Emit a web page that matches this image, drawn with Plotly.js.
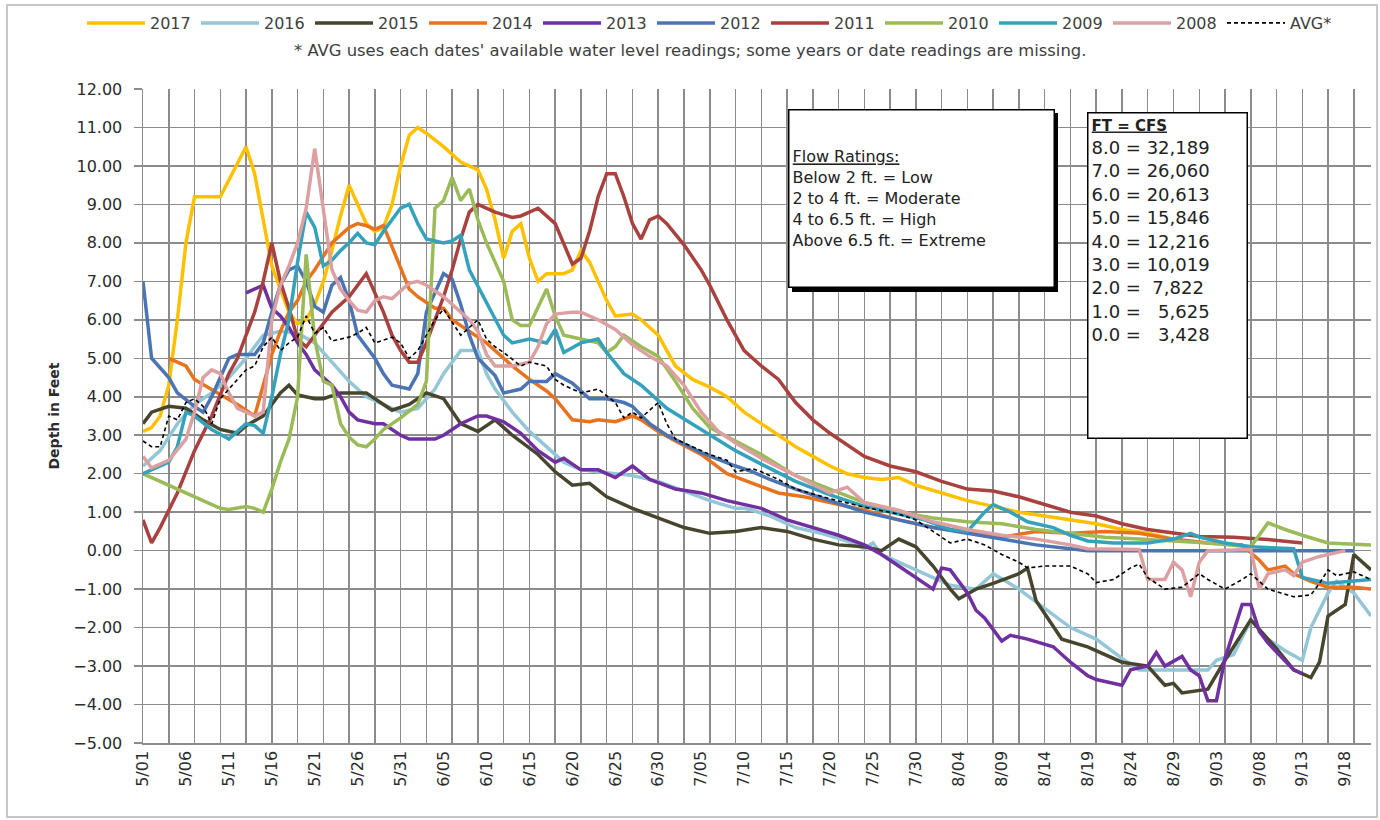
<!DOCTYPE html>
<html>
<head>
<meta charset="utf-8">
<script src="https://cdn.plot.ly/plotly-3.0.1.min.js"></script>
<style>
  html, body { margin: 0; padding: 0; background: #fff; }
  #chart { width: 1380px; height: 820px; position: relative; }
  #frame { position: absolute; left: 6px; top: 4px; width: 1372px; height: 814px; border: 2px solid #c8c8c8; pointer-events: none; box-sizing: border-box; }
</style>
</head>
<body>
<div id="chart"></div>
<div id="frame"></div>
<script>
// ---- x tick labels (every 5 days) ----
const xTickLabels = ['5/01','5/06','5/11','5/16','5/21','5/26','5/31','6/05','6/10','6/15','6/20','6/25','6/30',
  '7/05','7/10','7/15','7/20','7/25','7/30','8/04','8/09','8/14','8/19','8/24','8/29','9/03','9/08','9/13','9/18'];

// ---- series: day offsets from 5/01 and depth in feet ----
const d2017 = [0,1,2,3,4,5,6,7,9,12,13,14,15,16,17,18,19,20,21,22,23,24,25,26,27,28,29,30,31,32,33,35,37,39,40,41,42,43,44,45,46,47,49,50,51,52,53,54,55,57,58,60,62,64,66,68,70,72,74,76,78,80,82,84,86,88,90,93,96,99,102,105,108,111,114,117,120];
const v2017 = [3.1,3.2,3.5,4.3,6.0,8.0,9.2,9.2,9.2,10.5,9.8,8.6,7.4,6.8,6.2,5.9,6.0,6.4,7.0,7.8,8.7,9.5,9.0,8.5,8.3,8.4,9.0,10.0,10.8,11.0,10.85,10.5,10.1,9.9,9.4,8.6,7.6,8.3,8.5,7.6,7.0,7.2,7.2,7.3,7.8,7.5,7.0,6.5,6.1,6.15,6.0,5.6,4.8,4.45,4.25,4.0,3.6,3.3,3.0,2.7,2.45,2.2,2.0,1.9,1.85,1.9,1.7,1.5,1.3,1.15,1.0,0.9,0.8,0.7,0.55,0.45,0.3];

const d2016 = [0,2,4,6,8,10,12,14,16,18,20,22,24,26,28,30,32,34,35,37,39,40,41,43,45,47,49,51,53,55,57,60,63,66,69,70,71,73,76,79,82,84,85,86,88,91,94,97,99,102,105,108,111,114,116,120,124,125,127,129,131,133,135,136,138,139,141,143];
const v2016 = [2.2,2.6,3.3,3.8,4.1,4.5,5.0,5.6,5.7,5.65,5.4,4.9,4.4,4.0,3.8,3.6,3.7,4.2,4.6,5.2,5.2,4.6,4.2,3.6,3.1,2.7,2.3,2.1,2.05,2.0,1.95,1.8,1.55,1.3,1.1,1.1,1.05,0.9,0.6,0.45,0.25,0.05,0.2,-0.1,-0.3,-0.6,-0.9,-1.0,-0.6,-1.0,-1.5,-2.0,-2.3,-2.8,-3.1,-3.1,-3.1,-2.85,-2.7,-1.8,-2.3,-2.6,-2.85,-2.0,-1.1,-0.8,-1.1,-1.7];

const d2015 = [0,1,3,5,7,9,11,12,14,16,17,18,20,21,23,26,28,29,31,33,35,37,39,41,43,46,48,50,52,54,57,60,63,66,69,72,75,78,81,84,86,88,90,92,94,95,97,99,102,103,104,107,110,114,117,119,120,121,124,126,129,131,132,134,136,137,138,140,141,143];
const v2015 = [3.3,3.6,3.75,3.7,3.4,3.15,3.05,3.25,3.5,4.1,4.3,4.05,3.95,3.95,4.1,4.1,3.8,3.65,3.8,4.1,3.95,3.3,3.1,3.4,3.0,2.5,2.05,1.7,1.75,1.4,1.1,0.85,0.6,0.45,0.5,0.6,0.5,0.3,0.15,0.1,0.0,0.3,0.1,-0.4,-1.0,-1.25,-1.0,-0.85,-0.6,-0.45,-1.3,-2.3,-2.5,-2.9,-3.0,-3.5,-3.45,-3.7,-3.6,-2.85,-1.8,-2.3,-2.55,-3.1,-3.3,-2.9,-1.7,-1.4,-0.1,-0.5];

const d2014 = [3,5,6,8,9,11,13,14,15,16,17,18,19,20,22,24,25,26,27,28,29,30,31,32,34,35,36,38,40,42,43,45,47,48,50,52,53,55,57,58,60,62,65,68,71,74,77,80,84,88,92,96,100,104,108,112,116,120,124,128,130,131,133,134,136,138,141,143];
const v2014 = [5.0,4.8,4.45,4.2,4.05,3.8,3.5,4.3,5.1,5.7,6.2,6.5,7.0,7.3,8.0,8.4,8.5,8.45,8.35,8.45,7.9,7.3,6.8,6.6,6.3,6.3,6.0,5.7,5.4,5.0,4.8,4.45,4.15,3.95,3.4,3.35,3.4,3.35,3.5,3.4,3.1,2.85,2.5,2.0,1.75,1.5,1.4,1.25,1.05,0.8,0.6,0.5,0.35,0.5,0.45,0.5,0.45,0.3,0.2,0.15,-0.25,-0.5,-0.4,-0.6,-0.8,-0.95,-0.95,-1.0];

const d2013 = [12,13,14,15,16,17,18,19,20,21,22,23,24,25,27,28,30,31,34,35,37,39,40,42,44,46,48,49,51,53,55,57,59,62,65,68,72,75,78,81,84,86,88,90,92,93,94,96,97,98,100,101,103,106,108,110,111,114,115,117,118,119,121,122,123,124,125,126,128,129,130,131,134,135];
const v2013 = [6.7,6.8,6.9,6.3,6.1,5.8,5.4,5.1,4.7,4.5,4.3,4.0,3.6,3.4,3.3,3.3,3.0,2.9,2.9,3.0,3.3,3.5,3.5,3.35,3.05,2.6,2.3,2.4,2.1,2.1,1.9,2.2,1.85,1.6,1.5,1.3,1.1,0.8,0.6,0.4,0.15,-0.1,-0.4,-0.7,-1.0,-0.45,-0.5,-1.1,-1.55,-1.75,-2.35,-2.2,-2.3,-2.5,-2.9,-3.25,-3.35,-3.5,-3.1,-3.0,-2.65,-3.0,-2.75,-3.1,-3.25,-3.9,-3.9,-2.8,-1.4,-1.4,-2.1,-2.4,-3.1,-3.2];

const d2012 = [0,1,3,4,6,7,8,9,10,11,13,14,15,16,17,18,19,20,21,22,23,24,25,27,28,29,31,32,33,35,36,37,38,39,41,42,44,45,47,48,50,52,54,56,57,59,61,65,69,71,73,76,80,84,88,92,96,100,104,108,110,141];
const v2012 = [7.0,5.0,4.5,4.1,3.75,3.6,4.0,4.5,5.0,5.1,5.1,5.4,6.2,6.9,7.3,7.4,7.0,6.35,6.2,6.9,7.1,6.5,5.6,5.0,4.6,4.3,4.2,4.6,6.2,7.2,7.05,6.4,5.6,5.0,4.55,4.1,4.2,4.4,4.4,4.6,4.35,3.95,3.95,3.85,3.75,3.3,3.0,2.55,2.2,2.05,1.85,1.6,1.3,1.0,0.8,0.6,0.45,0.3,0.15,0.05,0.0,0.0];

const d2011 = [0,1,2,4,6,8,10,11,13,14,15,16,17,18,19,20,22,24,26,27,28,29,30,31,32,33,35,36,37,38,39,41,43,44,46,48,49,50,51,52,53,54,55,56,57,58,59,60,61,63,65,66,68,70,72,74,76,78,80,82,84,87,90,93,96,99,102,105,108,111,114,117,120,123,127,131,135];
const v2011 = [0.8,0.2,0.6,1.5,2.6,3.5,4.6,5.0,6.2,7.0,8.0,7.0,6.3,5.5,5.3,5.6,6.2,6.6,7.2,6.7,6.2,5.6,5.2,4.9,4.9,5.4,6.6,7.3,8.1,8.8,9.0,8.8,8.66,8.7,8.9,8.5,8.0,7.45,7.6,8.3,9.2,9.8,9.8,9.2,8.5,8.1,8.6,8.7,8.5,7.95,7.3,6.9,6.0,5.2,4.8,4.45,3.85,3.4,3.05,2.75,2.45,2.2,2.05,1.8,1.6,1.55,1.4,1.2,1.0,0.9,0.7,0.55,0.45,0.37,0.35,0.29,0.2];

const d2010 = [0,3,6,9,10,12,13,14,15,16,17,18,19,20,21,22,23,24,25,26,27,28,30,32,33,34,35,36,37,38,39,40,41,42,43,44,45,46,47,48,49,51,53,54,55,56,58,60,62,64,66,69,72,76,80,84,88,92,96,100,104,108,112,116,120,124,129,130,131,133,135,138,143];
const v2010 = [2.0,1.7,1.4,1.1,1.07,1.15,1.1,1.0,1.6,2.3,2.9,4.0,7.7,5.5,4.4,4.3,3.3,2.95,2.75,2.7,2.9,3.15,3.45,3.8,4.4,8.9,9.1,9.7,9.1,9.4,8.6,8.0,7.5,7.0,6.0,5.85,5.85,6.3,6.8,6.1,5.6,5.5,5.4,5.15,5.3,5.6,5.3,5.05,4.4,3.7,3.2,2.85,2.5,1.95,1.6,1.25,1.0,0.85,0.75,0.7,0.55,0.45,0.35,0.3,0.25,0.2,0.1,0.4,0.72,0.55,0.4,0.2,0.15];

const d2009 = [0,2,3,4,5,6,8,10,11,12,13,14,15,16,17,18,19,20,21,22,23,24,25,26,27,28,29,30,31,32,33,35,36,37,38,40,41,42,43,45,47,48,49,51,53,54,56,58,61,65,69,72,76,80,84,88,91,94,96,98,99,101,103,106,108,110,113,117,120,122,123,126,129,134,135,138,143];
const v2009 = [2.0,2.2,2.3,2.7,3.6,3.5,3.15,2.9,3.1,3.3,3.25,3.05,4.0,5.1,6.0,7.5,8.8,8.4,7.4,7.55,7.8,8.0,8.25,8.0,7.95,8.3,8.6,8.9,9.0,8.5,8.1,8.0,8.05,8.2,7.3,6.45,6.0,5.6,5.4,5.5,5.4,5.75,5.15,5.4,5.5,5.15,4.6,4.3,3.7,3.15,2.6,2.25,1.8,1.45,1.15,0.95,0.8,0.55,0.5,1.0,1.2,1.0,0.75,0.6,0.4,0.25,0.2,0.2,0.3,0.45,0.35,0.2,0.1,0.05,-0.7,-0.85,-0.75];

const d2008 = [0,1,3,5,6,7,8,9,10,11,12,13,14,15,16,17,18,19,20,21,22,23,24,25,26,27,28,29,31,32,33,35,37,38,39,40,41,43,45,46,47,48,50,51,53,55,57,59,61,63,65,67,69,72,76,80,82,84,88,92,96,100,104,108,110,116,117,119,120,121,122,123,124,129,130,131,133,134,135,137,140];
const v2008 = [2.45,2.15,2.35,2.9,3.6,4.5,4.7,4.6,4.1,3.7,3.6,3.5,3.6,6.0,6.9,7.4,8.0,8.9,10.45,8.8,7.3,6.8,6.5,6.25,6.2,6.5,6.6,6.55,6.95,7.0,6.9,6.6,6.2,6.0,5.7,5.1,4.8,4.8,4.9,5.3,5.9,6.15,6.2,6.2,6.0,5.75,5.35,5.05,4.8,4.3,3.6,3.1,2.8,2.4,1.95,1.5,1.65,1.25,1.05,0.75,0.55,0.4,0.3,0.15,0.05,0.03,-0.75,-0.75,-0.3,-0.5,-1.2,-0.3,0.0,0.03,-1.0,-0.6,-0.5,-0.65,-0.3,-0.15,0.0];

const dAvg = [0,1,2,3,4,5,6,7,8,9,10,12,13,14,15,16,17,18,19,20,21,22,24,25,26,27,29,30,31,32,33,34,35,36,37,38,39,40,41,42,44,45,47,48,49,51,53,55,56,57,58,60,61,62,64,66,68,69,71,72,74,76,80,84,88,90,92,94,96,98,100,102,103,105,108,110,111,113,115,116,117,119,121,123,124,126,128,129,131,134,136,137,138,139,141,143];
const vAvg = [2.85,2.7,2.7,3.5,3.4,3.85,3.95,3.75,3.3,3.95,4.2,4.7,4.8,5.3,5.55,5.2,5.4,5.55,6.1,5.65,5.8,5.45,5.55,5.65,5.8,5.4,5.55,5.4,5.0,5.2,5.6,6.0,6.28,5.95,5.6,5.8,6.0,5.5,5.3,5.15,4.8,4.9,4.8,4.45,4.3,4.1,4.2,3.85,3.45,3.6,3.45,3.85,3.3,2.9,2.7,2.5,2.35,2.05,2.13,2.05,1.85,1.6,1.35,1.13,0.95,0.8,0.5,0.2,0.3,0.15,-0.1,-0.3,-0.45,-0.4,-0.4,-0.6,-0.83,-0.75,-0.45,-0.35,-0.7,-1.0,-0.95,-0.6,-0.75,-1.0,-0.75,-0.6,-1.0,-1.2,-1.15,-0.85,-0.5,-0.65,-0.55,-0.75];

const seriesNames  = ['2017','2016','2015','2014','2013','2012','2011','2010','2009','2008'];
const seriesDays   = [d2017,d2016,d2015,d2014,d2013,d2012,d2011,d2010,d2009,d2008];
const seriesValues = [v2017,v2016,v2015,v2014,v2013,v2012,v2011,v2010,v2009,v2008];
const seriesColors = ['#FFC000','#93C6D6','#48452E','#E8731E','#7030A0','#4A74B2','#A9413E','#9BBB59','#35A2BC','#DDA0A2'];

// ---- helpers ----
function dayToDate(d) {
  const t = new Date(Date.UTC(2017, 4, 1 + d));
  return t.toISOString().slice(0, 10);
}
function labelToDate(s) {
  const [m, d] = s.split('/');
  return '2017-' + m.padStart(2, '0') + '-' + d;
}
// plot area in page pixels
const PL = 143, PR = 1371, PT = 89, PB = 743;
const px = x => (x - PL) / (PR - PL);
const py = y => (PB - y) / (PB - PT);

const traces = seriesNames.map((n, i) => ({
  type: 'scatter', mode: 'lines', name: n,
  x: seriesDays[i].map(dayToDate), y: seriesValues[i],
  line: { color: seriesColors[i], width: 3.5 },
  hoverinfo: 'skip'
}));
traces.push({
  type: 'scatter', mode: 'lines', name: 'AVG*',
  x: dAvg.map(dayToDate), y: vAvg,
  line: { color: '#000000', width: 1.6, dash: '4px,3px' },
  hoverinfo: 'skip'
});

const gridC = '#8c8c8c';
const txtC = '#2b2b2b';
const FONT = 'DejaVu Sans, sans-serif';

const flowText = '<u>Flow Ratings:</u><br>Below 2 ft. = Low<br>2 to 4 ft. = Moderate<br>4 to 6.5 ft. = High<br>Above 6.5 ft. = Extreme';
const cfsText = '<b><u><span style="font-size:15px">FT = CFS</span></u></b><br>8.0 = 32,189<br>7.0 = 26,060<br>6.0 = 20,613<br>5.0 = 15,846<br>4.0 = 12,216<br>3.0 = 10,019<br>2.0 =\u00a0\u00a07,822<br>1.0 =\u00a0\u00a0\u00a05,625<br>0.0 =\u00a0\u00a0\u00a03,428';

const layout = {
  width: 1380, height: 820,
  margin: { l: PL, r: 1380 - PR, t: PT, b: 820 - PB, pad: 0, autoexpand: false },
  paper_bgcolor: '#ffffff', plot_bgcolor: '#ffffff',
  font: { family: FONT, color: txtC, size: 16 },
  showlegend: true,
  legend: {
    orientation: 'h', xref: 'paper', yref: 'paper',
    x: px(82), y: py(23), xanchor: 'left', yanchor: 'middle',
    font: { family: FONT, size: 16, color: '#404040' },
    entrywidth: 41, entrywidthmode: 'pixels', itemwidth: 58,
    bgcolor: 'rgba(0,0,0,0)', traceorder: 'normal'
  },
  xaxis: {
    type: 'date',
    range: [dayToDate(0), dayToDate(143)],
    tickmode: 'array',
    tickvals: xTickLabels.map(labelToDate),
    ticktext: xTickLabels,
    tickangle: -90,
    ticks: '', showgrid: false, zeroline: false,
    showline: true, linecolor: gridC, linewidth: 1.5,
    tickfont: { family: FONT, size: 16, color: txtC },
    ticklabelstandoff: 0,
    minor: { tickmode: 'linear', tick0: dayToDate(0), dtick: 3 * 86400000, showgrid: true, gridcolor: gridC, gridwidth: 1.5, ticks: '' },
    fixedrange: true
  },
  yaxis: {
    range: [-5, 12], dtick: 1, tick0: 0, tickformat: '.2f',
    showgrid: true, gridcolor: gridC, gridwidth: 1.5, zeroline: false,
    ticks: 'outside', ticklen: 8, tickwidth: 1.5, tickcolor: gridC,
    showline: true, linecolor: gridC, linewidth: 1.5,
    tickfont: { family: FONT, size: 16, color: txtC },
    ticklabelstandoff: 8,
    title: { text: '<b>Depth in Feet</b>', font: { family: FONT, size: 14, color: txtC }, standoff: 10 },
    fixedrange: true
  },
  shapes: [
    { type: 'rect', xref: 'paper', yref: 'paper', x0: px(792), x1: px(1058), y0: py(113), y1: py(292),
      fillcolor: '#000000', line: { width: 0 }, layer: 'above' }
  ],
  annotations: [
    { xref: 'paper', yref: 'paper', x: px(690), y: py(50), xanchor: 'center', yanchor: 'middle', showarrow: false,
      text: "* AVG uses each dates' available water level readings; some years or date readings are missing.",
      font: { family: FONT, size: 16.4, color: '#404040' } },
    { xref: 'paper', yref: 'paper', x: px(788), y: py(109), xanchor: 'left', yanchor: 'top', showarrow: false,
      text: flowText, align: 'left', valign: 'middle', width: 258, height: 170, borderpad: 3,
      bgcolor: '#ffffff', bordercolor: '#000000', borderwidth: 1.5,
      font: { family: FONT, size: 16, color: '#222' } },
    { xref: 'paper', yref: 'paper', x: px(1087), y: py(112), xanchor: 'left', yanchor: 'top', showarrow: false,
      text: cfsText, align: 'left', valign: 'top', width: 152, height: 318, borderpad: 3,
      bgcolor: '#ffffff', bordercolor: '#000000', borderwidth: 1.5,
      font: { family: FONT, size: 18, color: '#222' } }
  ]
};

Plotly.newPlot('chart', traces, layout, { staticPlot: true, displayModeBar: false });
</script>
</body>
</html>
